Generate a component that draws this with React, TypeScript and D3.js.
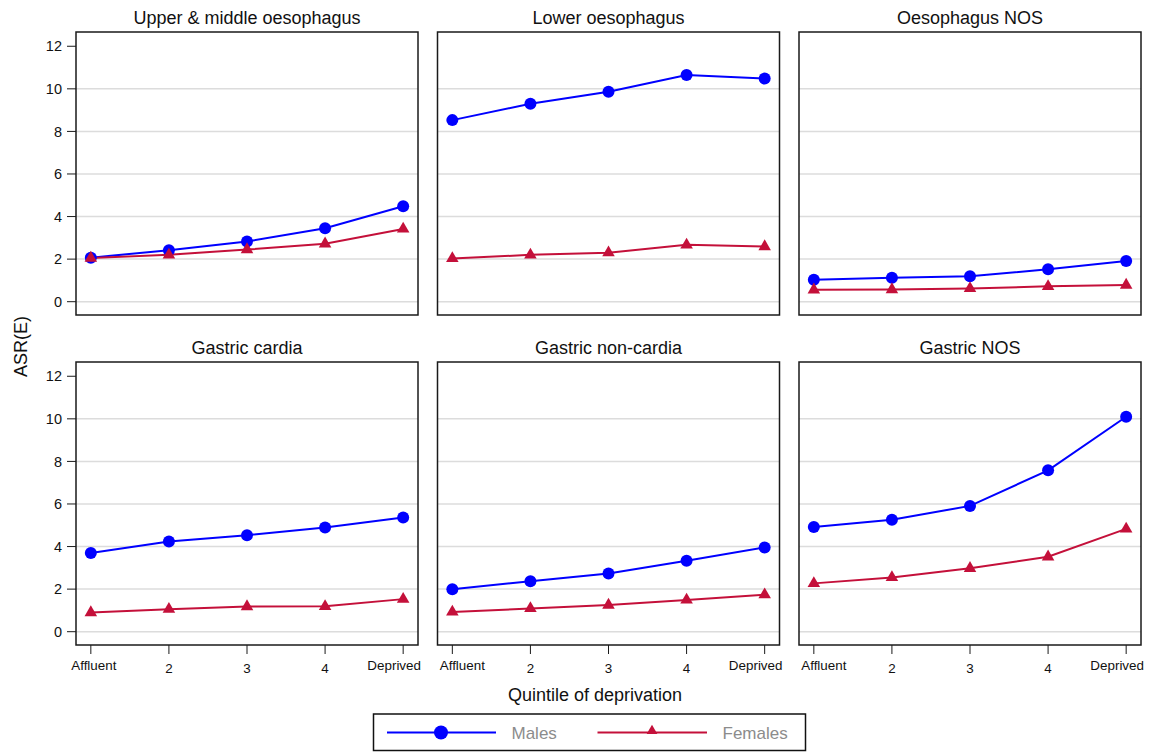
import React from 'react';
import * as d3 from 'd3';

const quintiles = ['Affluent', '2', '3', '4', 'Deprived'];
const panelTitles = [
  'Upper & middle oesophagus',
  'Lower oesophagus',
  'Oesophagus NOS',
  'Gastric cardia',
  'Gastric non-cardia',
  'Gastric NOS',
];
const yTicks = [0, 2, 4, 6, 8, 10, 12];

// ASR(E) by quintile, males
const malesUpperMiddle = [2.07, 2.42, 2.83, 3.45, 4.48];
const malesLower = [8.53, 9.3, 9.86, 10.65, 10.48];
const malesOesNOS = [1.03, 1.12, 1.19, 1.52, 1.91];
const malesCardia = [3.7, 4.24, 4.53, 4.9, 5.37];
const malesNonCardia = [1.99, 2.37, 2.73, 3.33, 3.96];
const malesGastricNOS = [4.92, 5.26, 5.91, 7.58, 10.1];

// ASR(E) by quintile, females
const femalesUpperMiddle = [2.05, 2.2, 2.45, 2.72, 3.42];
const femalesLower = [2.03, 2.2, 2.3, 2.67, 2.59];
const femalesOesNOS = [0.56, 0.57, 0.62, 0.72, 0.78];
const femalesCardia = [0.9, 1.06, 1.18, 1.19, 1.53];
const femalesNonCardia = [0.93, 1.09, 1.25, 1.49, 1.74];
const femalesGastricNOS = [2.27, 2.55, 2.98, 3.52, 4.83];

const males = [malesUpperMiddle, malesLower, malesOesNOS, malesCardia, malesNonCardia, malesGastricNOS];
const females = [femalesUpperMiddle, femalesLower, femalesOesNOS, femalesCardia, femalesNonCardia, femalesGastricNOS];

const BLUE = '#0000ff';
const RED = '#c4103a';
const FONT = 'Arial, "Liberation Sans", Helvetica, sans-serif';

const colX = [76, 437.5, 799];
const rowY = [32, 362];
const pw = 342;
const ph = 283;

const triangle = d3.symbol().type(d3.symbolTriangle).size(68)();
const legendTriangle = d3.symbol().type(d3.symbolTriangle).size(50)();

// end labels get nudged inwards so they don't collide with the next panel
const labelShift = (q: string, col: number) => {
  if (q === 'Affluent') return col === 0 ? 3 : 10;
  if (q === 'Deprived') return -9;
  return 0;
};

const Panel: React.FC<{ idx: number }> = ({ idx }) => {
  const col = idx % 3;
  const row = Math.floor(idx / 3);
  const left = colX[col];
  const top = rowY[row];

  const x = d3.scalePoint<string>().domain(quintiles).range([left, left + pw]).padding(0.19);
  const y = d3.scaleLinear().domain([-0.625, 12.67]).range([top + ph, top]);

  const line = d3.line<number>()
    .x((_, i) => x(quintiles[i]) as number)
    .y(d => y(d));

  return (
    <g>
      <text x={left + pw / 2} y={top - 8} textAnchor="middle" fontSize={18} fill="#111">
        {panelTitles[idx]}
      </text>
      {yTicks.filter(t => t < 12).map(t => (
        <line key={t} x1={left} x2={left + pw} y1={y(t)} y2={y(t)} stroke="#dcdcdc" strokeWidth={1.5} />
      ))}
      <path d={line(males[idx]) || ''} fill="none" stroke={BLUE} strokeWidth={2} />
      <path d={line(females[idx]) || ''} fill="none" stroke={RED} strokeWidth={2} />
      {males[idx].map((v, i) => (
        <circle key={i} cx={x(quintiles[i])} cy={y(v)} r={6} fill={BLUE} />
      ))}
      {females[idx].map((v, i) => (
        <path key={i} d={triangle} transform={`translate(${x(quintiles[i])},${y(v)})`} fill={RED} />
      ))}
      <rect x={left} y={top} width={pw} height={ph} fill="none" stroke="#1a1a1a" strokeWidth={1.5} />
      {col === 0 && yTicks.map(t => (
        <g key={t}>
          <line x1={left - 9} x2={left} y1={y(t)} y2={y(t)} stroke="#1a1a1a" strokeWidth={1} />
          <text x={left - 14} y={y(t)} dy="0.36em" textAnchor="end" fontSize={14.5} fill="#111">{t}</text>
        </g>
      ))}
      {row === 1 && quintiles.map(q => (
        <g key={q}>
          <line x1={x(q)} x2={x(q)} y1={top + ph} y2={top + ph + 9} stroke="#1a1a1a" strokeWidth={1} />
          <text x={(x(q) as number) + labelShift(q, col)} y={q.length > 1 ? 670 : 673} textAnchor="middle" fontSize={13.4} fill="#111">{q}</text>
        </g>
      ))}
    </g>
  );
};

export default function App() {
  return (
    <svg width={1154} height={752} style={{ position: 'absolute', left: 0, top: 0, background: '#fff' }} fontFamily={FONT}>
      <rect width={1154} height={752} fill="#fff" />
      {panelTitles.map((_, i) => <Panel key={i} idx={i} />)}
      <text transform="translate(27,346.5) rotate(-90)" textAnchor="middle" fontSize={18} fill="#111">ASR(E)</text>
      <text x={595} y={701} textAnchor="middle" fontSize={18} fill="#111">Quintile of deprivation</text>
      <g>
        <rect x={373.5} y={714} width={432} height={36.5} fill="#fff" stroke="#111" strokeWidth={1.5} />
        <line x1={387} x2={496} y1={732.5} y2={732.5} stroke={BLUE} strokeWidth={2} />
        <circle cx={441} cy={732.5} r={7} fill={BLUE} />
        <text x={511.5} y={739} fontSize={17} fill="#8c8c8c">Males</text>
        <line x1={597.5} x2={707} y1={732.5} y2={732.5} stroke={RED} strokeWidth={2} />
        <path d={legendTriangle} transform="translate(652,731)" fill={RED} />
        <text x={722.5} y={739} fontSize={17} fill="#8c8c8c">Females</text>
      </g>
    </svg>
  );
}
